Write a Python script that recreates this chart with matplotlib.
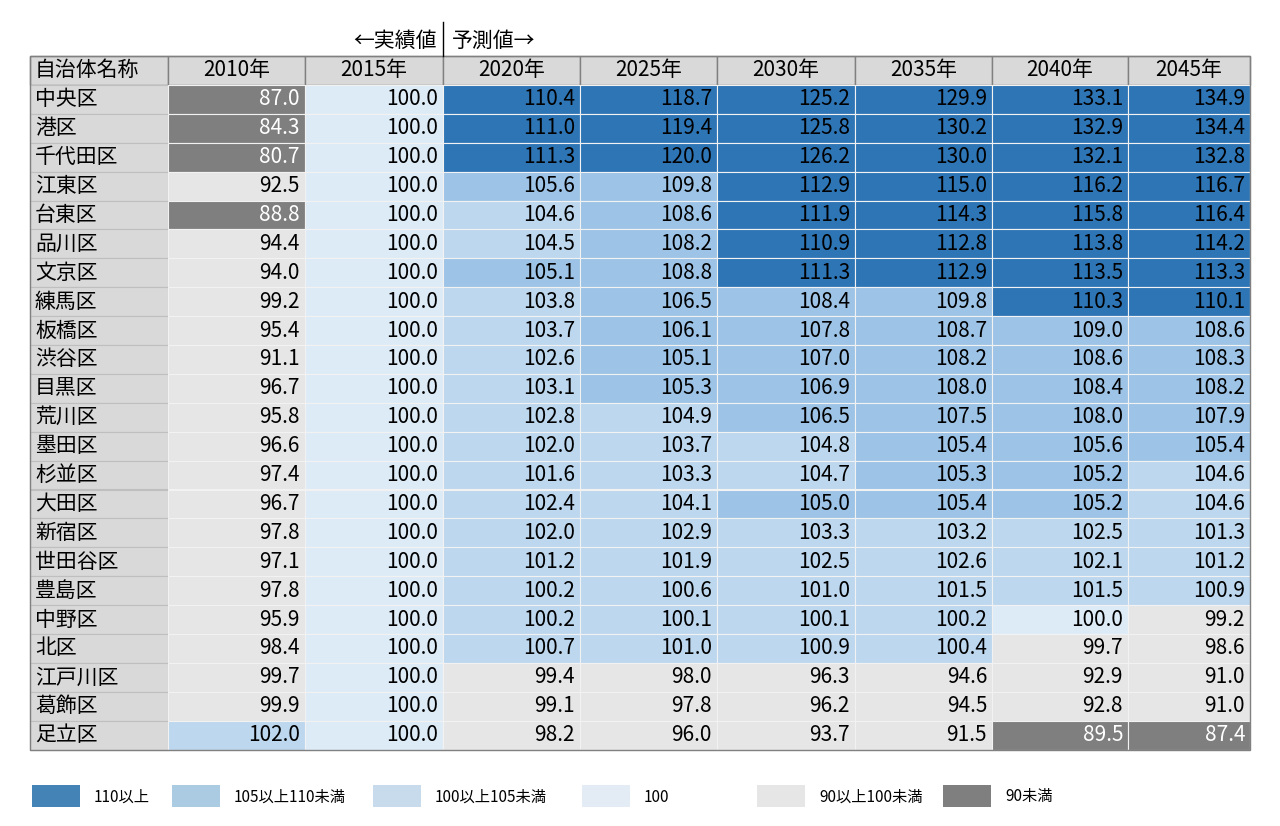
import matplotlib.pyplot as plt
from matplotlib.patches import Rectangle

plt.rcParams['font.family'] = 'Noto Sans CJK JP'

wards = ['中央区', '港区', '千代田区', '江東区', '台東区', '品川区', '文京区', '練馬区', '板橋区', '渋谷区',
         '目黒区', '荒川区', '墨田区', '杉並区', '大田区', '新宿区', '世田谷区', '豊島区', '中野区', '北区',
         '江戸川区', '葛飾区', '足立区']
years = ['2010年', '2015年', '2020年', '2025年', '2030年', '2035年', '2040年', '2045年']
v2010 = [87.0, 84.3, 80.7, 92.5, 88.8, 94.4, 94.0, 99.2, 95.4, 91.1, 96.7, 95.8, 96.6, 97.4, 96.7, 97.8, 97.1, 97.8, 95.9, 98.4, 99.7, 99.9, 102.0]
v2015 = [100.0] * 23
v2020 = [110.4, 111.0, 111.3, 105.6, 104.6, 104.5, 105.1, 103.8, 103.7, 102.6, 103.1, 102.8, 102.0, 101.6, 102.4, 102.0, 101.2, 100.2, 100.2, 100.7, 99.4, 99.1, 98.2]
v2025 = [118.7, 119.4, 120.0, 109.8, 108.6, 108.2, 108.8, 106.5, 106.1, 105.1, 105.3, 104.9, 103.7, 103.3, 104.1, 102.9, 101.9, 100.6, 100.1, 101.0, 98.0, 97.8, 96.0]
v2030 = [125.2, 125.8, 126.2, 112.9, 111.9, 110.9, 111.3, 108.4, 107.8, 107.0, 106.9, 106.5, 104.8, 104.7, 105.0, 103.3, 102.5, 101.0, 100.1, 100.9, 96.3, 96.2, 93.7]
v2035 = [129.9, 130.2, 130.0, 115.0, 114.3, 112.8, 112.9, 109.8, 108.7, 108.2, 108.0, 107.5, 105.4, 105.3, 105.4, 103.2, 102.6, 101.5, 100.2, 100.4, 94.6, 94.5, 91.5]
v2040 = [133.1, 132.9, 132.1, 116.2, 115.8, 113.8, 113.5, 110.3, 109.0, 108.6, 108.4, 108.0, 105.6, 105.2, 105.2, 102.5, 102.1, 101.5, 100.0, 99.7, 92.9, 92.8, 89.5]
v2045 = [134.9, 134.4, 132.8, 116.7, 116.4, 114.2, 113.3, 110.1, 108.6, 108.3, 108.2, 107.9, 105.4, 104.6, 104.6, 101.3, 101.2, 100.9, 99.2, 98.6, 91.0, 91.0, 87.4]
cols = [v2010, v2015, v2020, v2025, v2030, v2035, v2040, v2045]
legend_labels = ['110以上', '105以上110未満', '100以上105未満', '100', '90以上100未満', '90未満']

def cell_color(v):
    if v >= 110: return '#2e75b6'
    if v >= 105: return '#9dc3e6'
    if v > 100: return '#bdd7ee'
    if v == 100: return '#ddebf7'
    if v >= 90: return '#e7e6e6'
    return '#7f7f7f'

fig = plt.figure(figsize=(12.8, 8.26), dpi=100)
ax = fig.add_axes([0, 0, 1, 1])
ax.set_xlim(0, 1280)
ax.set_ylim(826, 0)
ax.axis('off')

xs = [30, 168, 305, 443, 580, 717, 855, 992, 1128, 1250]
top, rh = 56, 28.9
fs = 15

# header
for j in range(9):
    ax.add_patch(Rectangle((xs[j], top), xs[j+1]-xs[j], rh, fc='#d9d9d9', ec='#808080', lw=1))
    lab = '自治体名称' if j == 0 else years[j-1]
    if j == 0:
        ax.text(xs[0]+5, top+rh/2, lab, ha='left', va='center', fontsize=fs)
    else:
        ax.text((xs[j]+xs[j+1])/2, top+rh/2, lab, ha='center', va='center', fontsize=fs)

for i, w in enumerate(wards):
    y = top + rh*(i+1)
    ax.add_patch(Rectangle((xs[0], y), xs[1]-xs[0], rh, fc='#d9d9d9', ec='#bfbfbf', lw=0.8))
    ax.text(xs[0]+5, y+rh/2, w, ha='left', va='center', fontsize=fs)
    for j, c in enumerate(cols):
        v = c[i]
        fc = cell_color(v)
        ax.add_patch(Rectangle((xs[j+1], y), xs[j+2]-xs[j+1], rh, fc=fc, ec='#f2f2f2', lw=0.8))
        ax.text(xs[j+2]-5, y+rh/2, f'{v:.1f}', ha='right', va='center', fontsize=fs,
                color='white' if v < 90 else 'black')

# outer border
ax.add_patch(Rectangle((xs[0], top), xs[-1]-xs[0], rh*24, fill=False, ec='#808080', lw=1))

# annotations
ax.plot([443, 443], [22, top], color='black', lw=1)
ax.text(437, 41, '←実績値', ha='right', va='center', fontsize=fs)
ax.text(452, 41, '予測値→', ha='left', va='center', fontsize=fs)

# legend
leg_colors = ['#4383b6', '#abcbe3', '#c8dbec', '#e3ecf5', '#e6e6e6', '#7f7f7f']
leg_x = [32, 172, 373, 582, 757, 943]
for c, lab, lx in zip(leg_colors, legend_labels, leg_x):
    ax.add_patch(Rectangle((lx, 785), 48, 22, fc=c, ec='none'))
    ax.text(lx + 62, 797, lab, ha='left', va='center', fontsize=11)

fig.savefig('out.png', dpi=100)
